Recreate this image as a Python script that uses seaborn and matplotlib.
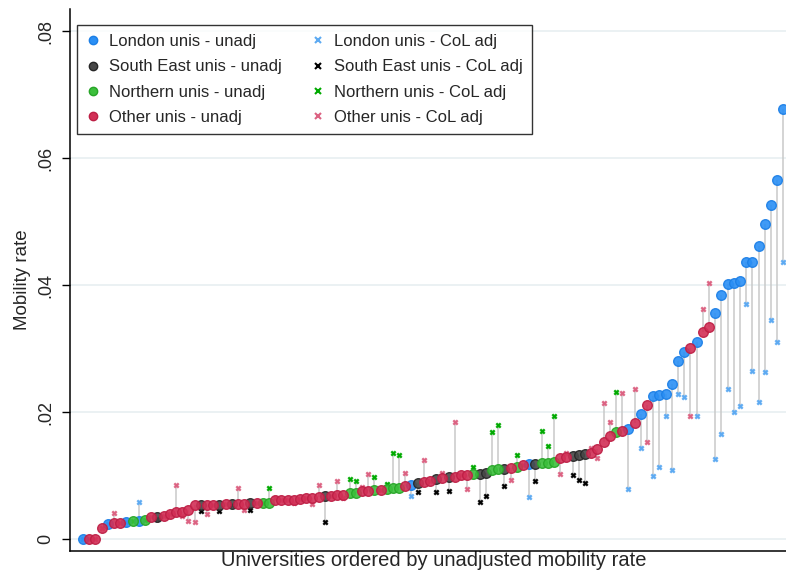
import numpy as np
import pandas as pd
import seaborn as sns
import matplotlib
matplotlib.use("Agg")
import matplotlib.pyplot as plt
from matplotlib.lines import Line2D

# Group of each university (L=London, S=South East, N=Northern, O=Other), ordered by unadjusted rate
groups = list("LOOOLOOLNL" "NOSOOOOOOS" "OOSOSOOSON" "NOOOOOOOOS" "OOONNOONON"
              "NNOLSOOSOS" "OOONSSNNSO" "NOLSNNNOOS" "SSOOOONOLO" "LOLLLLLLOL"
              "OOLLLLLLLLLLLL")

unadj = [0.0000, 0.0000, 0.0000, 0.0018, 0.0023, 0.0025, 0.0025, 0.0026, 0.0028, 0.0029,
         0.0030, 0.0034, 0.0035, 0.0036, 0.0040, 0.0042, 0.0042, 0.0045, 0.0053, 0.0053,
         0.0053, 0.0054, 0.0054, 0.0055, 0.0055, 0.0055, 0.0055, 0.0056, 0.0056, 0.0057,
         0.0057, 0.0061, 0.0061, 0.0062, 0.0062, 0.0063, 0.0064, 0.0065, 0.0066, 0.0068,
         0.0068, 0.0069, 0.0070, 0.0072, 0.0073, 0.0075, 0.0076, 0.0077, 0.0077, 0.0079,
         0.0081, 0.0081, 0.0083, 0.0085, 0.0088, 0.0090, 0.0092, 0.0094, 0.0096, 0.0097,
         0.0097, 0.0101, 0.0101, 0.0103, 0.0103, 0.0104, 0.0109, 0.0110, 0.0110, 0.0112,
         0.0114, 0.0117, 0.0118, 0.0118, 0.0119, 0.0120, 0.0122, 0.0127, 0.0129, 0.0131,
         0.0132, 0.0134, 0.0136, 0.0142, 0.0152, 0.0162, 0.0169, 0.0170, 0.0174, 0.0183,
         0.0197, 0.0211, 0.0226, 0.0227, 0.0229, 0.0244, 0.0281, 0.0295, 0.0301, 0.0310,
         0.0326, 0.0334, 0.0356, 0.0384, 0.0402, 0.0404, 0.0407, 0.0436, 0.0436, 0.0462,
         0.0496, 0.0526, 0.0565, 0.0678]

coladj = [0.0000, 0.0000, 0.0000, 0.0018, 0.0023, 0.0041, 0.0025, 0.0026, 0.0028, 0.0058,
          0.0030, 0.0034, 0.0032, 0.0036, 0.0040, 0.0085, 0.0036, 0.0029, 0.0026, 0.0044,
          0.0040, 0.0054, 0.0044, 0.0055, 0.0053, 0.0080, 0.0046, 0.0046, 0.0056, 0.0057,
          0.0080, 0.0064, 0.0061, 0.0062, 0.0056, 0.0063, 0.0064, 0.0055, 0.0085, 0.0027,
          0.0068, 0.0092, 0.0064, 0.0094, 0.0092, 0.0082, 0.0102, 0.0098, 0.0077, 0.0086,
          0.0136, 0.0132, 0.0104, 0.0067, 0.0074, 0.0125, 0.0092, 0.0074, 0.0104, 0.0076,
          0.0184, 0.0101, 0.0078, 0.0114, 0.0058, 0.0068, 0.0169, 0.0180, 0.0083, 0.0093,
          0.0132, 0.0117, 0.0066, 0.0091, 0.0170, 0.0146, 0.0193, 0.0102, 0.0136, 0.0101,
          0.0093, 0.0088, 0.0144, 0.0128, 0.0214, 0.0185, 0.0231, 0.0230, 0.0079, 0.0236,
          0.0143, 0.0153, 0.0099, 0.0113, 0.0193, 0.0109, 0.0229, 0.0223, 0.0194, 0.0193,
          0.0362, 0.0403, 0.0126, 0.0165, 0.0236, 0.0200, 0.0210, 0.0370, 0.0265, 0.0215,
          0.0263, 0.0345, 0.0310, 0.0436]

group_names = {"L": "London unis", "S": "South East unis", "N": "Northern unis", "O": "Other unis"}
group_order = ["L", "S", "N", "O"]
ytick_vals = [0, 0.02, 0.04, 0.06, 0.08]
ytick_labels = ["0", ".02", ".04", ".06", ".08"]

unadj_face = {"L": "#2a8ff5", "S": "#474747", "N": "#3cbf3c", "O": "#d22f56"}
unadj_edge = {"L": "#1c7fe6", "S": "#262626", "N": "#27a527", "O": "#bd1f45"}
adj_col = {"L": "#5daaf2", "S": "#000000", "N": "#00aa00", "O": "#dc6282"}

df = pd.DataFrame({"rank": np.arange(len(unadj)), "grp": groups,
                   "unadj": unadj, "adj": coladj})

sns.set_style("white")
plt.rcParams["font.family"] = ["Liberation Sans", "DejaVu Sans"]

fig = plt.figure(figsize=(7.86, 5.72), dpi=100)
ax = fig.add_axes([70/786, 21/572, (797-70)/786, (572-21-9)/572])

# grid lines
for v in ytick_vals:
    ax.axhline(v, color="#e8eff1", lw=1.2, zorder=0)

# connecting lines
ax.vlines(df["rank"], df["unadj"], df["adj"], color="#c9c9c9", lw=1.1, zorder=1)

# adjusted markers
for g in group_order:
    sub = df[df["grp"] == g]
    sns.scatterplot(data=sub, x="rank", y="adj", ax=ax, marker="X", s=15,
                    color=adj_col[g], edgecolor=adj_col[g], linewidth=0.3,
                    zorder=2, legend=False)

# unadjusted markers
for g in group_order:
    sub = df[df["grp"] == g]
    sns.scatterplot(data=sub, x="rank", y="unadj", ax=ax, marker="o", s=48,
                    color=unadj_face[g], edgecolor=unadj_edge[g], linewidth=1.0,
                    alpha=0.9, zorder=3, legend=False)

ax.set_xlim(-2.1, 115.2)
ax.set_ylim(-0.0019, 0.0835)
ax.set_xticks([])
ax.set_yticks(ytick_vals)
ax.set_yticklabels(ytick_labels, rotation=90, va="center", fontsize=13)
ax.tick_params(axis="y", length=6, width=1, color="black", pad=5, left=True)
ax.set_ylabel("Mobility rate", fontsize=13.5, labelpad=5)
ax.set_xlabel("Universities ordered by unadjusted mobility rate", fontsize=14.5, labelpad=0)
for s in ["top", "right"]:
    ax.spines[s].set_visible(False)
for s in ["left", "bottom"]:
    ax.spines[s].set_color("black")
    ax.spines[s].set_linewidth(1.1)

handles = []
labels = []
for g in group_order:
    handles.append(Line2D([], [], marker="o", ls="", markersize=6,
                          markerfacecolor=unadj_face[g], markeredgecolor=unadj_edge[g]))
    labels.append(group_names[g] + " - unadj")
for g in group_order:
    handles.append(Line2D([], [], marker="x", ls="", markersize=4, mew=1.5,
                          color=adj_col[g]))
    labels.append(group_names[g] + " - CoL adj")

leg = ax.legend(handles, labels, ncol=2, loc="upper left", bbox_to_anchor=(0.0096, 0.9705),
                fontsize=12, frameon=True, fancybox=False, edgecolor="black",
                handlelength=0.8, handletextpad=0.56, columnspacing=1.8,
                labelspacing=0.62, borderpad=0.55, borderaxespad=0)
leg.get_frame().set_linewidth(1.0)

fig.savefig("out.png", dpi=100)
